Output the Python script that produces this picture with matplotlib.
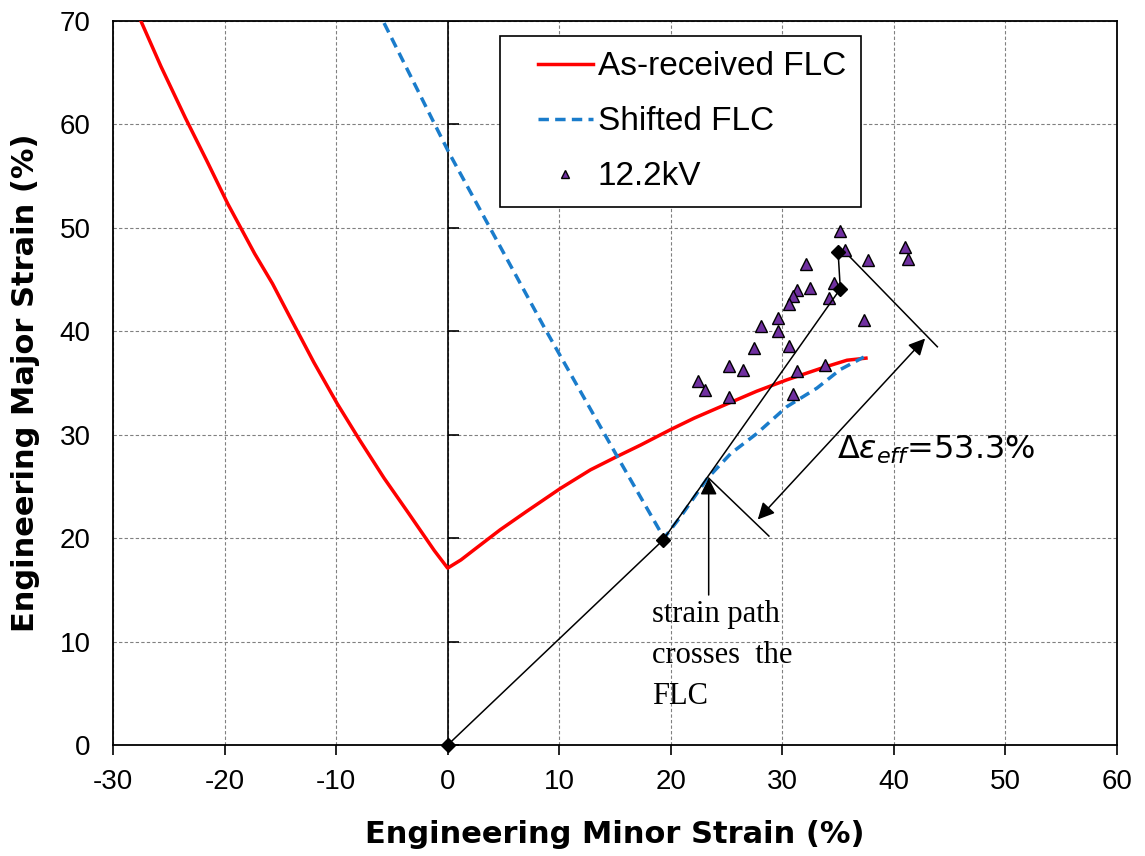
import numpy as np
import matplotlib.pyplot as plt
from matplotlib.lines import Line2D
from matplotlib.legend_handler import HandlerLine2D

plt.rcParams['axes.unicode_minus'] = False

# --- data ---
red_x = [-27.5, -25.7, -23.5, -21.6, -19.7, -17.3, -15.7, -14.2, -12.0, -9.9, -7.9,
         -5.7, -3.5, -1.2, 0.0, 1.2, 2.4, 4.7, 7.1, 10.1, 12.8, 15.2, 17.3, 20.0, 22.1,
         25.1, 27.7, 30.4, 33.7, 35.8, 37.5]
red_y = [70.0, 65.6, 60.6, 56.5, 52.3, 47.5, 44.6, 41.5, 37.0, 33.0, 29.5,
         25.8, 22.4, 18.8, 17.1, 17.9, 18.9, 20.8, 22.6, 24.8, 26.6, 27.9, 29.0, 30.5, 31.6,
         33.0, 34.2, 35.3, 36.5, 37.2, 37.4]

blue_x = [-5.7, 0.1, 8.8, 15.2, 19.4, 20.9, 23.3, 25.4, 27.7, 30.4, 33.1, 35.2, 37.3]
blue_y = [69.8, 57.3, 40.1, 27.9, 20.0, 22.1, 25.8, 28.2, 30.1, 32.7, 34.5, 36.3, 37.5]

kv_x = [35.2, 35.6, 37.7, 41.0, 41.3, 32.1, 32.5, 34.6, 31.3, 31.0, 30.6, 34.2, 29.6,
        28.1, 29.6, 37.3, 30.6, 27.5, 25.2, 26.5, 31.3, 33.8, 22.4, 23.1, 25.2, 31.0]
kv_y = [49.7, 47.9, 46.9, 48.1, 47.0, 46.5, 44.2, 44.7, 44.0, 43.4, 42.6, 43.2, 41.3,
        40.5, 40.0, 41.1, 38.6, 38.4, 36.6, 36.3, 36.2, 36.7, 35.2, 34.3, 33.6, 33.9]

path_x = [0.0, 19.3, 35.2, 35.0]
path_y = [0.0, 19.8, 44.1, 47.7]

xticks = np.arange(-30, 61, 10)
yticks = np.arange(0, 71, 10)

# --- figure ---
fig = plt.figure(figsize=(11.45, 8.56), dpi=100)
ax = fig.add_axes([0.0987, 0.1297, 0.8768, 0.8458])

ax.set_xlim(-30, 60)
ax.set_ylim(0, 70)
ax.set_xticks(xticks)
ax.set_yticks(yticks)
ax.grid(True, color='#808080', linestyle=(0, (3, 2)), linewidth=0.8)
ax.set_axisbelow(True)

for s in ax.spines.values():
    s.set_linewidth(1.3)
    s.set_color('black')

ax.tick_params(axis='x', direction='out', length=7, width=1.2, pad=10,
               labelsize=20, labelfontfamily='Liberation Sans')
ax.tick_params(axis='y', length=0, pad=16, labelsize=20, labelfontfamily='Liberation Sans')

# vertical axis crossing at x=0, with its tick marks
ax.axvline(0, color='black', linewidth=1.2, zorder=2)
ax.plot(np.zeros(len(yticks)), yticks, linestyle='none', marker=1, markersize=8,
        markeredgewidth=1.2, color='black', zorder=2)

ax.plot(red_x, red_y, color='#FF0000', linewidth=2.5, label='As-received FLC', zorder=3)
ax.plot(blue_x, blue_y, color='#1A7CCB', linewidth=2.5, linestyle=(0, (3, 1.8)),
        label='Shifted FLC', zorder=3)
ax.plot(kv_x, kv_y, linestyle='none', marker='^', markersize=9, markerfacecolor='#7030A0',
        markeredgecolor='black', markeredgewidth=1.0, label='12.2kV', zorder=4)

# strain path
ax.plot(path_x, path_y, color='black', linewidth=1.1, marker='D', markersize=7,
        zorder=5, clip_on=False)

# dimension lines for delta eps
ax.plot([23.4, 28.8], [25.8, 20.2], color='black', linewidth=1.1)
ax.plot([35.6, 43.9], [47.7, 38.5], color='black', linewidth=1.1)
ax.annotate('', xy=(27.8, 21.8), xytext=(42.8, 39.3),
            arrowprops=dict(arrowstyle='<|-|>', color='black', lw=1.1,
                            mutation_scale=25, shrinkA=0, shrinkB=0))
ax.annotate('', xy=(23.4, 25.8), xytext=(23.4, 14.5),
            arrowprops=dict(arrowstyle='-|>', color='black', lw=1.1,
                            mutation_scale=25, shrinkA=0, shrinkB=0))

ax.text(18.3, 14.0, 'strain path\ncrosses  the\nFLC', fontsize=22,
        family='Liberation Serif', ha='left', va='top', linespacing=1.55)
ax.text(34.9, 27.7, r'$\Delta\varepsilon_{eff}$=53.3%', fontsize=23,
        ha='left', va='baseline')

ax.set_xlabel('Engineering Minor Strain (%)', fontsize=22, fontweight='bold', labelpad=18)
ax.set_ylabel('Engineering Major Strain (%)', fontsize=22, fontweight='bold', labelpad=14)

leg = ax.legend(loc='upper left', bbox_to_anchor=(0.385, 0.979), borderaxespad=0,
                fancybox=False, edgecolor='black', framealpha=1,
                prop={'family': 'Liberation Sans', 'size': 24},
                handlelength=2.35, handletextpad=0.15, labelspacing=0.72,
                borderpad=0.45, markerscale=0.6,
                handler_map={Line2D: HandlerLine2D(xpad=0.7)})
leg.get_frame().set_linewidth(1.2)

fig.savefig('out.png', dpi=100)
